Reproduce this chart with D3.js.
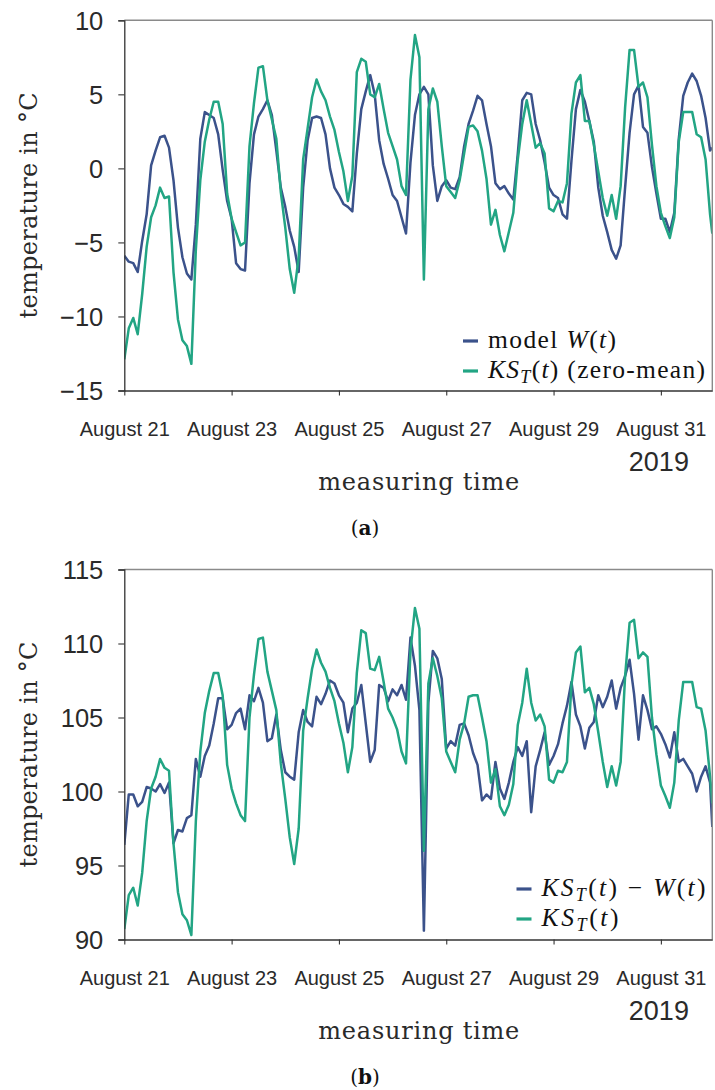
<!DOCTYPE html>
<html><head><meta charset="utf-8">
<script src="https://cdn.jsdelivr.net/npm/d3@7/dist/d3.min.js"></script>
<style>body{margin:0;background:#fff}</style>
</head><body>
<svg id="c" width="715" height="1090" xmlns="http://www.w3.org/2000/svg"></svg>
<script>
// ---------- data ----------
const startDate = new Date(2019, 7, 21, 0, 0);
const hours = [...d3.range(0, 263, 2), 263];       // sampling grid (hours since Aug 21 00:00)
const xTickDays = [21, 23, 25, 27, 29, 31];
const xTickLabels = ["August 21", "August 23", "August 25", "August 27", "August 29", "August 31"];
const yTicksA = [-15, -10, -5, 0, 5, 10];
const yTicksB = [90, 95, 100, 105, 110, 115];
const yDomainA = [-15, 10];
const yDomainB = [90, 115];
const yearLabel = "2019";

// (a) model W(t)
const modelW = [-5.9,-6.3,-6.4,-7.0,-4.9,-3.1,0.2,1.2,2.1,2.2,1.4,-0.8,-4.0,-6.0,-7.1,-7.5,-3.8,2.0,3.8,3.6,3.4,2.3,-0.1,-2.2,-3.4,-6.4,-6.8,-6.9,-1.0,2.3,3.5,4.0,4.6,3.6,1.2,-1.3,-2.6,-4.2,-5.3,-7.0,-1.3,1.9,3.4,3.5,3.4,2.3,0.0,-1.3,-1.8,-2.4,-2.6,-2.9,
  1.0,4.0,5.2,6.3,5.0,1.9,0.3,-0.7,-1.8,-2.2,-3.3,-4.4,0.4,3.6,5.0,5.5,5.0,0.2,-2.2,-1.2,-0.8,-1.3,-1.4,-0.6,1.5,3.0,3.9,4.9,4.6,3.0,1.5,-1.0,-1.4,-1.2,-1.7,-2.1,1.0,4.6,5.1,5.0,3.0,1.9,0.4,-1.3,-1.8,-2.0,-3.1,-3.4,0.5,4.0,5.3,4.5,3.2,1.8,-1.3,-3.2,-4.3,-5.5,-6.1,-5.2,-1.3,2.4,5.0,5.6,2.8,2.4,0.1,-1.7,-3.4,-3.4,-4.3,-3.0,2.0,4.9,5.8,6.4,5.9,4.9,3.4,1.2,
  1.4];
// (a) KS_T(t) zero-mean
const ksZeroMean = [-12.9,-10.8,-10.1,-11.2,-8.5,-5.3,-3.3,-2.5,-1.3,-2.0,-1.9,-7.0,-10.2,-11.6,-12.0,-13.2,-5.5,-0.8,1.8,3.3,4.5,4.5,3.0,-1.7,-3.4,-4.3,-5.2,-5.0,1.5,4.4,6.8,6.9,4.6,3.3,2.0,-1.6,-4.0,-6.8,-8.4,-6.0,0.6,2.7,4.8,6.0,5.2,4.6,3.5,2.6,1.1,-0.2,-2.2,-0.5,
  6.5,7.4,7.2,5.0,4.8,5.7,4.0,2.4,1.5,0.6,-1.2,-1.8,6.0,9.0,7.5,-7.5,4.0,5.4,4.5,1.5,-1.2,-1.6,-2.0,-0.8,1.0,2.8,2.9,2.5,1.2,-0.7,-3.8,-2.8,-4.5,-5.6,-4.3,-3.0,0.6,3.0,4.6,3.0,1.4,1.7,1.0,-2.7,-2.9,-2.2,-2.3,-1.0,3.7,5.8,6.3,3.2,3.2,1.6,-0.2,-2.0,-3.2,-1.8,-3.4,-1.2,4.1,8.0,8.0,5.5,5.8,4.8,1.6,-1.2,-3.0,-3.9,-4.7,-3.3,1.8,3.8,3.8,3.8,2.3,2.1,0.6,-3.1,
  -4.4];
// (b) KS_T(t) - W(t)
const ksMinusW = [96.4,99.8,99.8,99.0,99.3,100.3,100.2,100.0,100.5,99.9,100.6,96.5,97.4,97.3,98.2,98.4,102.2,101.0,102.4,103.1,104.6,106.3,106.3,104.2,104.5,105.3,105.6,104.2,106.5,106.1,107.0,106.0,103.4,103.6,105.2,102.8,101.3,101.0,100.8,104.0,105.5,104.7,104.4,106.4,105.9,106.6,107.5,107.3,106.5,106.0,104.0,105.6,
  106.0,107.2,104.6,102.0,102.8,107.2,107.0,106.1,106.9,106.5,107.2,106.2,110.4,108.5,105.5,90.6,106.0,109.5,109.0,107.6,102.9,103.4,103.1,104.5,104.6,103.8,102.6,101.8,99.4,99.8,99.5,102.0,100.2,99.5,100.6,102.0,103.0,102.4,103.4,98.6,101.7,102.8,104.0,101.8,102.4,103.2,104.6,105.8,107.4,105.2,104.4,102.9,104.3,104.7,106.5,105.7,106.4,107.5,105.6,107.0,107.8,108.9,106.6,103.5,106.5,105.5,104.2,104.4,103.9,103.2,102.3,104.0,102.0,102.2,101.7,101.2,100.0,101.0,101.7,100.6,
  97.6];
// (b) KS_T(t)
const ksT = [90.7,93.0,93.5,92.3,94.5,98.0,100.2,101.0,102.2,101.6,101.4,96.5,93.2,91.7,91.3,90.3,98.0,102.7,105.3,106.8,108.0,108.0,106.5,101.8,100.2,99.2,98.4,98.0,105.0,107.9,110.3,110.4,108.1,106.8,105.5,101.9,99.5,96.9,95.1,97.5,104.1,106.3,108.3,109.6,108.7,108.1,107.0,106.1,104.6,103.3,101.3,103.0,
  108.0,110.9,110.7,108.3,108.2,109.1,107.4,105.6,105.0,104.2,102.7,101.9,109.5,112.4,111.0,96.0,107.3,109.0,107.8,106.3,102.7,102.0,101.3,103.5,104.6,106.4,106.5,106.5,105.0,103.4,100.6,101.5,99.0,98.4,99.1,100.5,104.5,106.0,108.3,106.0,104.8,105.2,104.4,100.8,100.6,101.4,101.3,102.0,107.2,109.4,109.8,106.7,107.0,105.9,104.0,102.0,100.3,101.7,100.4,102.0,107.8,111.4,111.6,109.0,109.4,109.1,105.0,102.5,100.4,99.7,98.9,100.6,104.8,107.4,107.4,107.4,105.7,105.6,104.1,101.0,
  99.2];

// ---------- drawing ----------
const BLUE = "#3b528b", GREEN = "#22a584";
const svg = d3.select("#c");
const L = 124.3, R = 712.3;
const times = hours.map(h => new Date(startDate.getTime() + h * 3600e3));
const x = d3.scaleTime().domain([times[0], times[times.length - 1]]).range([L, R]);
const tickDates = xTickDays.map(d => new Date(2019, 7, d));

function panel(id, top, bottom, yDomain, yTicks, series, legend, caption) {
  const y = d3.scaleLinear().domain(yDomain).range([bottom, top]);
  const g = svg.append("g");
  g.append("clipPath").attr("id", "clip" + id).append("rect")
    .attr("x", L).attr("y", top - 2).attr("width", R - L).attr("height", bottom - top + 4);

  const line = d3.line().x((d, i) => x(times[i])).y(d => y(d));
  series.forEach(s => {
    g.append("path").datum(s.values).attr("d", line).attr("fill", "none")
      .attr("stroke", s.color).attr("stroke-width", 2.5).attr("stroke-linejoin", "round")
      .attr("clip-path", `url(#clip${id})`);
  });

  g.append("line").attr("x1", L).attr("x2", R).attr("y1", top).attr("y2", top).attr("stroke", "#8a8a8a").attr("stroke-width", 1.4);
  g.append("line").attr("x1", R).attr("x2", R).attr("y1", top).attr("y2", bottom).attr("stroke", "#8a8a8a").attr("stroke-width", 1.4);

  const ya = g.append("g").attr("transform", `translate(${L},0)`)
    .call(d3.axisLeft(y).tickValues(yTicks).tickSize(6).tickPadding(15)
      .tickFormat(d => d < 0 ? "\u2212" + Math.abs(d) : String(d)));
  ya.select(".domain").attr("stroke", "#333").attr("stroke-width", 1.3);
  ya.selectAll(".tick line").attr("stroke", "#333").attr("stroke-width", 1.1);
  ya.selectAll(".tick text").attr("font-family", "'Liberation Sans', Arial, sans-serif")
    .attr("font-size", 25.5).attr("fill", "#2a2a2a").attr("dy", "0.36em");

  const xa = g.append("g").attr("transform", `translate(0,${bottom})`)
    .call(d3.axisBottom(x).tickValues(tickDates).tickSize(5).tickSizeOuter(0)
      .tickFormat((d, i) => xTickLabels[i]));
  xa.select(".domain").attr("stroke", "#333").attr("stroke-width", 1.3);
  xa.selectAll(".tick line").attr("stroke", "#333").attr("stroke-width", 1.1);
  xa.selectAll(".tick text").attr("font-family", "'Liberation Sans', Arial, sans-serif")
    .attr("font-size", 20).attr("fill", "#2a2a2a").attr("y", 45.5).attr("dy", 0);

  g.append("text").attr("x", x(tickDates[tickDates.length - 1]) - 2).attr("y", bottom + 80.5)
    .attr("text-anchor", "middle").attr("font-family", "'Liberation Sans', Arial, sans-serif")
    .attr("font-size", 27).attr("fill", "#2a2a2a").text(yearLabel);

  g.append("text").attr("transform", `translate(37,${(top + bottom) / 2}) rotate(-90)`)
    .attr("text-anchor", "middle").attr("font-family", "'DejaVu Serif', serif")
    .attr("font-size", 24).attr("fill", "#2a2a2a").attr("textLength", 226)
    .text("temperature in \u00B0C");
  g.append("text").attr("x", (L + R) / 2 + 0.5).attr("y", bottom + 99.5)
    .attr("text-anchor", "middle").attr("font-family", "'DejaVu Serif', serif")
    .attr("font-size", 24).attr("fill", "#2a2a2a").attr("textLength", 201)
    .text("measuring time");

  const cap = g.append("text").attr("x", 365).attr("y", bottom + 144.5).attr("text-anchor", "middle")
    .attr("font-family", "'DejaVu Serif', serif").attr("font-size", 20).attr("fill", "#111");
  cap.append("tspan").text("(");
  cap.append("tspan").attr("font-weight", "bold").text(caption);
  cap.append("tspan").text(")");

  legend.rows.forEach((row, i) => {
    const cy = legend.y + i * legend.dy;
    g.append("line").attr("x1", legend.x).attr("x2", legend.x + 15).attr("y1", cy).attr("y2", cy)
      .attr("stroke", row.color).attr("stroke-width", 3.2);
    const t = g.append("text").attr("x", legend.x + 25).attr("y", cy + 7)
      .attr("font-family", "'Liberation Serif', 'Times New Roman', serif")
      .attr("font-size", 25.5).attr("fill", "#111").attr("textLength", row.width).attr("lengthAdjust", "spacing");
    row.parts.forEach(p => {
      const ts = t.append("tspan").text(p.t);
      if (p.i) ts.attr("font-style", "italic");
      if (p.sub) ts.attr("font-size", 18).attr("baseline-shift", "-5");
    });
  });
}

const KS = [{t: "KS", i: true}, {t: "T", i: true, sub: true}, {t: "("}, {t: "t", i: true}, {t: ")"}];

panel("a", 20.3, 390.5, yDomainA, yTicksA,
  [{values: modelW, color: BLUE}, {values: ksZeroMean, color: GREEN}],
  {x: 463, y: 341, dy: 30, rows: [
    {color: BLUE, width: 128, parts: [{t: "model "}, {t: "W", i: true}, {t: "("}, {t: "t", i: true}, {t: ")"}]},
    {color: GREEN, width: 217, parts: [...KS, {t: " (zero-mean)"}]}
  ]}, "a");

panel("b", 569.5, 939.5, yDomainB, yTicksB,
  [{values: ksMinusW, color: BLUE}, {values: ksT, color: GREEN}],
  {x: 516.5, y: 889, dy: 30, rows: [
    {color: BLUE, width: 164, parts: [...KS, {t: " \u2212 "}, {t: "W", i: true}, {t: "("}, {t: "t", i: true}, {t: ")"}]},
    {color: GREEN, width: 77, parts: KS}
  ]}, "b");
</script>
</body></html>
